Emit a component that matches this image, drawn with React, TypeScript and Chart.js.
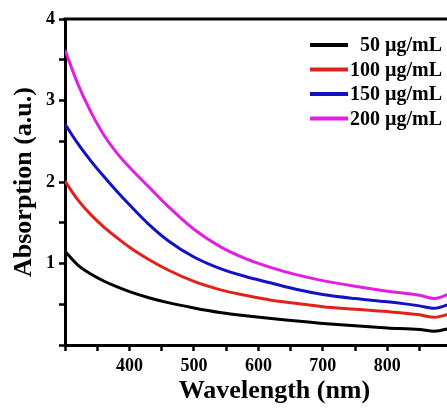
import React, { useEffect, useRef } from "react";
import { Chart, registerables } from "chart.js";

Chart.register(...registerables);

const wavelengths = [300, 320, 340, 360, 380, 400, 430, 460, 500, 540, 580, 620, 660, 700, 750, 800, 850, 873, 900];
const s50 = [1.15, 0.98, 0.87, 0.785, 0.715, 0.655, 0.58, 0.52, 0.455, 0.4, 0.36, 0.325, 0.295, 0.265, 0.235, 0.21, 0.19, 0.17, 0.21];
const s100 = [2.01, 1.78, 1.6, 1.45, 1.32, 1.2, 1.05, 0.92, 0.78, 0.68, 0.61, 0.55, 0.51, 0.47, 0.44, 0.41, 0.37, 0.34, 0.39];
const s150 = [2.71, 2.47, 2.26, 2.07, 1.89, 1.72, 1.48, 1.28, 1.08, 0.94, 0.84, 0.76, 0.68, 0.62, 0.57, 0.53, 0.48, 0.45, 0.51];
const s200 = [3.62, 3.2, 2.86, 2.58, 2.36, 2.18, 1.94, 1.7, 1.42, 1.21, 1.06, 0.95, 0.86, 0.79, 0.72, 0.66, 0.61, 0.57, 0.64];
const seriesLabels = ["50 \u00b5g/mL", "100 \u00b5g/mL", "150 \u00b5g/mL", "200 \u00b5g/mL"];
const seriesColors = ["#000000", "#e3211c", "#1212c4", "#e01fe0"];
const xLabelTicks = [400, 500, 600, 700, 800];
const yLabelTicks = [1, 2, 3, 4];

const FONT = "'Liberation Serif', 'Times New Roman', serif";

const framePlugin = {
  id: "frame",
  afterDraw(chart: any) {
    const { ctx, chartArea } = chart;
    ctx.save();
    ctx.strokeStyle = "#000";
    ctx.lineWidth = 3;
    ctx.beginPath();
    ctx.moveTo(chartArea.left - 1.5, chartArea.top);
    ctx.lineTo(chartArea.right, chartArea.top);
    ctx.lineTo(chartArea.right, chartArea.bottom);
    ctx.stroke();
    // legend
    const ds = chart.data.datasets;
    ctx.font = `bold 20px ${FONT}`;
    ctx.textBaseline = "middle";
    ctx.textAlign = "right";
    for (let i = 0; i < ds.length; i++) {
      const y = chartArea.top + 26 + i * 24.5;
      ctx.strokeStyle = ds[i].borderColor;
      ctx.lineWidth = 4;
      ctx.beginPath();
      ctx.moveTo(chartArea.left + 245, y);
      ctx.lineTo(chartArea.left + 283, y);
      ctx.stroke();
      ctx.fillStyle = "#000";
      ctx.fillText(ds[i].label, chartArea.left + 377, y + 1);
    }
    ctx.restore();
  },
};

export default function App() {
  const ref = useRef<HTMLCanvasElement>(null);
  useEffect(() => {
    const values = [s50, s100, s150, s200];
    const chart = new Chart(ref.current!, {
      type: "line",
      data: {
        datasets: values.map((v, i) => ({
          label: seriesLabels[i],
          data: wavelengths.map((w, j) => ({ x: w, y: v[j] })),
          borderColor: seriesColors[i],
          backgroundColor: seriesColors[i],
          borderWidth: 3,
          pointRadius: 0,
          cubicInterpolationMode: "monotone" as const,
        })),
      },
      options: {
        responsive: false,
        animation: false,
        devicePixelRatio: 1,
        layout: { padding: { top: 19, right: 11, left: 0, bottom: 0 } },
        plugins: { legend: { display: false }, tooltip: { enabled: false } },
        scales: {
          x: {
            type: "linear",
            min: 300,
            max: 950,
            afterFit: (s: any) => {
              s.height = 63;
            },
            border: { display: true, color: "#000", width: 3 },
            grid: { drawOnChartArea: false, drawTicks: true, tickLength: 6, tickWidth: 2.5, tickColor: "#000" },
            ticks: {
              stepSize: 50,
              autoSkip: false,
              maxRotation: 0,
              padding: 5,
              color: "#000",
              font: { family: FONT, size: 18, weight: "bold" },
              callback: (v: any) => (xLabelTicks.includes(Number(v)) ? String(v) : ""),
            },
            title: {
              display: true,
              text: "Wavelength (nm)",
              color: "#000",
              font: { family: FONT, size: 26, weight: "bold" },
              padding: { top: 0, bottom: 1 },
            },
          },
          y: {
            type: "linear",
            min: 0,
            max: 4,
            afterFit: (s: any) => {
              s.width = 65;
            },
            border: { display: true, color: "#000", width: 3 },
            grid: { drawOnChartArea: false, drawTicks: true, tickLength: 6, tickWidth: 2.5, tickColor: "#000" },
            ticks: {
              stepSize: 0.5,
              autoSkip: false,
              padding: 4,
              color: "#000",
              font: { family: FONT, size: 18, weight: "bold" },
              callback: (v: any) => (yLabelTicks.includes(Number(v)) ? String(v) : ""),
            },
            title: {
              display: true,
              text: "Absorption (a.u.)",
              color: "#000",
              font: { family: FONT, size: 26, weight: "bold" },
              padding: { top: 9, bottom: 0 },
            },
          },
        },
      },
      plugins: [framePlugin],
    });
    return () => chart.destroy();
  }, []);
  return (
    <div style={{ position: "fixed", left: 0, top: 0, width: 447, height: 408, overflow: "hidden", background: "#fff" }}>
      <canvas ref={ref} width={495} height={408} style={{ display: "block", width: 495, height: 408 }} />
    </div>
  );
}
